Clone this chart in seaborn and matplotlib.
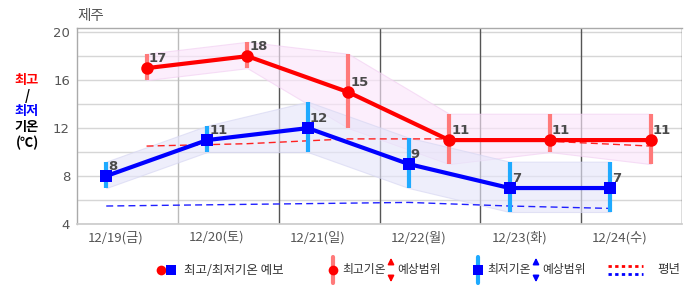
import numpy as np
import pandas as pd
import matplotlib
matplotlib.use("Agg")
import matplotlib.pyplot as plt
import seaborn as sns

# ---------------- data ----------------
dates = ["12/19(금)", "12/20(토)", "12/21(일)", "12/22(월)", "12/23(화)", "12/24(수)"]
max_temp = [17, 18, 15, 11, 11, 11]
max_lo = [16, 17, 12, 9, 10, 9]
max_hi = [18.2, 19.2, 18.2, 13.2, 13.2, 13.2]
min_temp = [8, 11, 12, 9, 7, 7]
min_lo = [7, 10, 10, 7, 5, 5]
min_hi = [9.2, 12.2, 14.2, 11.2, 9.2, 9.2]
normal_max = [10.5, 10.7, 11.1, 11.1, 10.9, 10.5]
normal_min = [5.5, 5.6, 5.7, 5.8, 5.5, 5.3]

# time-of-day offsets within each day (fraction of a day)
MIN_OFF = 0.29
MAX_OFF = 0.69
LABEL_OFF = 0.386

days = np.arange(len(dates))
df = pd.DataFrame({
    "date": dates,
    "xmin": days + MIN_OFF,
    "xmax": days + MAX_OFF,
    "max": max_temp, "max_lo": max_lo, "max_hi": max_hi,
    "min": min_temp, "min_lo": min_lo, "min_hi": min_hi,
    "nmax": normal_max, "nmin": normal_min,
})

sns.set_theme(style="white")
plt.rcParams["font.family"] = ["Noto Sans CJK KR", "DejaVu Sans"]

W, H = 686, 295
fig = plt.figure(figsize=(W / 100, H / 100), dpi=100)
ax = fig.add_axes([77 / W, 1 - 224 / H, (682 - 77) / W, (224 - 28) / H])

ax.set_xlim(0, len(dates))
ax.set_ylim(4, 20.35)

# grid
for y in np.arange(4, 21, 2):
    ax.axhline(y, color="#d6d6d6", lw=1, zorder=0)
for k in range(1, len(dates) + 1):
    ax.axvline(k, color="#bbbbbb" if k == 1 else "#555555", lw=1, zorder=0)

# bands
ax.fill_between(df["xmax"], df["max_lo"], df["max_hi"], color="#fbe6fb", alpha=0.65,
                edgecolor="#f2cff2", lw=0.8, zorder=1)
ax.fill_between(df["xmin"], df["min_lo"], df["min_hi"], color="#e6e6fa", alpha=0.65,
                edgecolor="#d6d6f2", lw=0.8, zorder=1)

# normals
sns.lineplot(data=df, x="xmax", y="nmax", ax=ax, color="#ff2020", lw=1,
             linestyle=(0, (5, 3)), zorder=2)
sns.lineplot(data=df, x="xmin", y="nmin", ax=ax, color="#2020ff", lw=1,
             linestyle=(0, (5, 3)), zorder=2)

# ranges
ax.vlines(df["xmax"], df["max_lo"], df["max_hi"], color="#ff7a7a", lw=3, zorder=3)
ax.vlines(df["xmin"], df["min_lo"], df["min_hi"], color="#1eaaff", lw=3, zorder=3)

# forecasts
sns.lineplot(data=df, x="xmax", y="max", ax=ax, color="#ff0000", lw=3,
             marker="o", markersize=9, markeredgewidth=0, zorder=4)
sns.lineplot(data=df, x="xmin", y="min", ax=ax, color="#0000ff", lw=3,
             marker="s", markersize=8.5, markeredgewidth=0, zorder=4)

for xs, vs in ((df["xmax"], df["max"]), (df["xmin"], df["min"])):
    for x, v in zip(xs, vs):
        ax.annotate(str(v), (x, v), xytext=(1.5, 2), textcoords="offset points",
                    fontsize=9.5, fontweight="bold", color="#4a4a4a",
                    family="DejaVu Sans", va="bottom", ha="left", zorder=5)

ax.set_xlabel("")
ax.set_ylabel("")
ax.set_xticks(days + LABEL_OFF)
ax.set_xticklabels(dates, fontsize=9.5, color="#555555")
ax.set_yticks([4, 8, 12, 16, 20])
ax.set_yticklabels(["4", "8", "12", "16", "20"], fontsize=9.5, color="#555555",
                   family="DejaVu Sans")
ax.tick_params(axis="both", length=0, pad=5)
for s in ["top", "left"]:
    ax.spines[s].set_color("#aaaaaa")
    ax.spines[s].set_linewidth(1)
ax.spines["bottom"].set_color("#cccccc")
ax.spines["right"].set_visible(False)

# title and left label
fig.text(77 / W, 1 - 16 / H, "제주", fontsize=10.5, color="#555555", va="center", ha="left")
lab = [("최고", "#ff0000", 80), ("/", "#000000", 96), ("최저", "#0000ff", 111),
       ("기온", "#000000", 127), ("(℃)", "#000000", 143)]
for t, c, y in lab:
    fig.text(27 / W, 1 - y / H, t, fontsize=9.5, fontweight="bold", color=c,
             ha="center", va="center")

# legend overlay
lg = fig.add_axes([0, 0, 1, 1])
lg.set_xlim(0, W)
lg.set_ylim(H, 0)
lg.axis("off")
ly = 270
fs = 8.5
arrow = dict(arrowstyle="-|>,head_width=0.15,head_length=0.3", lw=1.2)
lg.plot([161], [ly], "o", color="#ff0000", ms=7, mew=0)
lg.plot([171], [ly], "s", color="#0000ff", ms=6.5, mew=0)
lg.text(184, ly, "최고/최저기온 예보", fontsize=9, color="#333333", va="center")

lg.plot([333, 333], [ly - 13, ly + 13], color="#ff7a7a", lw=3)
lg.plot([333], [ly], "o", color="#ff0000", ms=7, mew=0)
lg.text(342, ly, "최고기온", fontsize=fs, color="#333333", va="center")
lg.text(441, ly, "예상범위", fontsize=fs, color="#333333", va="center", ha="right")
lg.annotate("", (391, ly - 15), (391, ly - 3), arrowprops=dict(arrow, color="#ff0000"))
lg.annotate("", (391, ly + 15), (391, ly + 3), arrowprops=dict(arrow, color="#ff0000"))

lg.plot([478, 478], [ly - 13, ly + 13], color="#1eaaff", lw=3)
lg.plot([478], [ly], "s", color="#0000ff", ms=6.5, mew=0)
lg.text(487, ly, "최저기온", fontsize=fs, color="#333333", va="center")
lg.text(586, ly, "예상범위", fontsize=fs, color="#333333", va="center", ha="right")
lg.annotate("", (536, ly - 15), (536, ly - 3), arrowprops=dict(arrow, color="#0000ff"))
lg.annotate("", (536, ly + 15), (536, ly + 3), arrowprops=dict(arrow, color="#0000ff"))

lg.plot([608, 643], [ly - 4, ly - 4], color="#ff0000", lw=2, linestyle=(0, (1.2, 1.2)))
lg.plot([608, 643], [ly + 4, ly + 4], color="#0000ff", lw=2, linestyle=(0, (1.2, 1.2)))
lg.text(657, ly, "평년", fontsize=9, color="#333333", va="center")

fig.savefig("out.png", dpi=100)
